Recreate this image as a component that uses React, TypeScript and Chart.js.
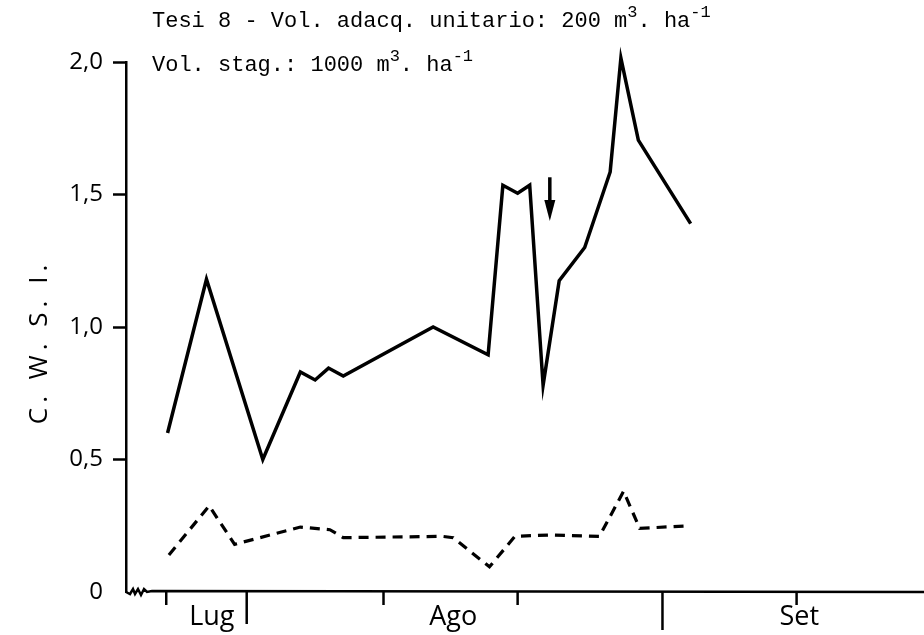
import React, { useEffect, useRef } from 'react';
import { Chart, registerables } from 'chart.js';

Chart.register(...registerables);

// Days counted from 1 July (31 = end of July, 62 = end of August)
const SOLID_DAYS = [25.1, 28.0, 32.2, 35.0, 36.1, 37.1, 38.2, 44.9, 49.0, 50.1, 51.2, 52.1, 53.1, 54.3, 56.2, 58.1, 58.9, 60.2, 64.1];
const SOLID_CWSI = [0.60, 1.18, 0.50, 0.83, 0.80, 0.845, 0.815, 1.00, 0.895, 1.535, 1.505, 1.535, 0.78, 1.175, 1.30, 1.585, 2.015, 1.705, 1.39];

const DASHED_DAYS = [25.2, 28.2, 30.1, 35.0, 37.2, 38.2, 45.6, 46.4, 49.1, 51.0, 53.5, 57.3, 59.1, 60.3, 64.0];
const DASHED_CWSI = [0.14, 0.325, 0.18, 0.245, 0.235, 0.205, 0.21, 0.205, 0.095, 0.21, 0.215, 0.21, 0.38, 0.24, 0.25];

const MONTH_LABELS = ['Lug', 'Ago', 'Set'];
const MONTH_LABEL_DAYS = [28.4, 46.4, 72.2];
const MINOR_TICK_DAYS = [25, 41.2, 51.2, 72];
const MONTH_END_DAYS = [31, 62];

const Y_TICKS = [0, 0.5, 1.0, 1.5, 2.0];

const ARROW_DAY = 53.6;
const ARROW_FROM = 1.565;
const ARROW_TO = 1.40;

const X_MIN = 22.0;
const X_MAX = 81.5;

const TITLE_1 = ['Tesi 8 - Vol. adacq. unitario: 200 m', '3', '. ha', '-1'];
const TITLE_2 = ['Vol. stag.: 1000 m', '3', '. ha', '-1'];
const Y_TITLE = 'C. W. S. I.';

const SANS = '"Open Sans", "DejaVu Sans", sans-serif';
const MONO = '"Liberation Mono", "DejaVu Sans Mono", monospace';

function drawSupLine(ctx: CanvasRenderingContext2D, parts: string[], x: number, baseline: number) {
  let cx = x;
  parts.forEach((p, i) => {
    const sup = i % 2 === 1;
    ctx.font = sup ? `17px ${MONO}` : `22px ${MONO}`;
    ctx.fillText(p, cx, sup ? baseline - 10 : baseline);
    cx += ctx.measureText(p).width;
  });
}

export default function App() {
  const ref = useRef<HTMLCanvasElement>(null);

  useEffect(() => {
    if (!ref.current) return;

    const overlay = {
      id: 'overlay',
      afterDraw(chart: any) {
        const { ctx, chartArea, scales } = chart;
        const xs = scales.x;
        const ys = scales.y;
        const y0 = ys.getPixelForValue(0);
        const left = chartArea.left;
        ctx.save();
        ctx.strokeStyle = '#000';
        ctx.fillStyle = '#000';
        ctx.lineWidth = 2.5;
        ctx.lineJoin = 'miter';

        // axis break + x axis line
        ctx.beginPath();
        ctx.moveTo(left, y0);
        const zig = [[4, 2], [7, -3], [9, 2], [12, -3], [15, 3], [18, -3], [21, 0], [26, -1]];
        zig.forEach(([dx, dy]) => ctx.lineTo(left + dx, y0 + dy));
        ctx.lineTo(chartArea.right, y0);
        ctx.stroke();

        // tick marks
        MINOR_TICK_DAYS.forEach((d) => {
          const x = xs.getPixelForValue(d);
          ctx.beginPath();
          ctx.moveTo(x, y0);
          ctx.lineTo(x, y0 + 13);
          ctx.stroke();
        });
        MONTH_END_DAYS.forEach((d, i) => {
          const x = xs.getPixelForValue(d);
          ctx.beginPath();
          ctx.moveTo(x, y0);
          ctx.lineTo(x, y0 + (i === 0 ? 32 : 38));
          ctx.stroke();
        });

        // arrow
        const ax = xs.getPixelForValue(ARROW_DAY);
        const aTop = ys.getPixelForValue(ARROW_FROM);
        const aTip = ys.getPixelForValue(ARROW_TO);
        ctx.lineWidth = 3.5;
        ctx.beginPath();
        ctx.moveTo(ax, aTop);
        ctx.lineTo(ax, aTip - 14);
        ctx.stroke();
        ctx.beginPath();
        ctx.moveTo(ax - 5.5, aTip - 21);
        ctx.lineTo(ax + 5.5, aTip - 21);
        ctx.lineTo(ax, aTip);
        ctx.closePath();
        ctx.fill();

        // header text
        ctx.textAlign = 'left';
        ctx.textBaseline = 'alphabetic';
        drawSupLine(ctx, TITLE_1, 152, 27);
        drawSupLine(ctx, TITLE_2, 152, 71);

        // y title
        ctx.save();
        ctx.translate(40, 342);
        ctx.rotate(-Math.PI / 2);
        ctx.textAlign = 'center';
        ctx.textBaseline = 'middle';
        ctx.font = `26px ${SANS}`;
        try { (ctx as any).letterSpacing = '5px'; } catch (e) { /* ignore */ }
        ctx.fillText(Y_TITLE, 0, 0);
        ctx.restore();

        ctx.restore();
      },
    };

    const chart = new Chart(ref.current, {
      type: 'line',
      data: {
        datasets: [
          {
            data: SOLID_DAYS.map((d, i) => ({ x: d, y: SOLID_CWSI[i] })),
            borderColor: '#000',
            borderWidth: 3.5,
            pointRadius: 0,
            tension: 0,
            fill: false,
            clip: false as any,
          },
          {
            data: DASHED_DAYS.map((d, i) => ({ x: d, y: DASHED_CWSI[i] })),
            borderColor: '#000',
            borderWidth: 3.2,
            borderDash: [10, 7],
            pointRadius: 0,
            tension: 0,
            fill: false,
            clip: false as any,
          },
        ],
      },
      options: {
        animation: false,
        responsive: true,
        maintainAspectRatio: false,
        layout: { padding: { top: 62, left: 0, right: 0, bottom: 0 } },
        plugins: {
          legend: { display: false },
          tooltip: { enabled: false },
          title: { display: false },
        },
        scales: {
          x: {
            type: 'linear',
            min: X_MIN,
            max: X_MAX,
            afterFit: (s: any) => { s.height = 43; },
            afterBuildTicks: (s: any) => { s.ticks = MONTH_LABEL_DAYS.map((v) => ({ value: v })); },
            ticks: {
              callback: (_v: any, i: number) => MONTH_LABELS[i],
              color: '#000',
              font: { family: SANS, size: 27 },
              padding: 9,
              autoSkip: false,
              maxRotation: 0,
            },
            grid: { display: false, drawTicks: false },
            border: { display: false },
          },
          y: {
            min: 0,
            max: 2,
            afterFit: (s: any) => { s.width = 126; },
            afterBuildTicks: (s: any) => { s.ticks = Y_TICKS.map((v) => ({ value: v })); },
            ticks: {
              callback: (v: any) => (Number(v) === 0 ? '0' : Number(v).toFixed(1).replace('.', ',')),
              color: '#000',
              font: { family: SANS, size: 24 },
              padding: 10,
            },
            grid: {
              drawOnChartArea: false,
              tickLength: 13,
              tickWidth: 2.5,
              tickColor: (c: any) => (c.tick && c.tick.value === 0 ? 'rgba(0,0,0,0)' : '#000'),
            },
            border: { display: true, color: '#000', width: 2.5 },
          },
        },
      },
      plugins: [overlay],
    });

    return () => chart.destroy();
  }, []);

  return (
    <div style={{ position: 'absolute', left: 0, top: 0, width: 924, height: 635, background: '#fff' }}>
      <canvas ref={ref} />
    </div>
  );
}
